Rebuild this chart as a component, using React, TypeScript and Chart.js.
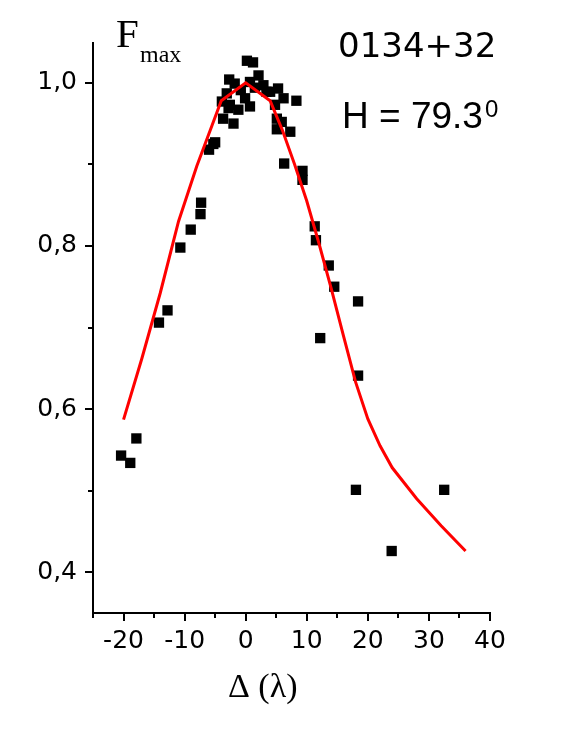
import React, { useEffect, useRef } from "react";
import { Chart, registerables } from "chart.js";

Chart.register(...registerables);

const xTicks = [-20, -10, 0, 10, 20, 30, 40];
const xMinorTicks = [-25, -15, -5, 5, 15, 25, 35];
const yTicks = [0.4, 0.6, 0.8, 1.0];
const yMinorTicks = [0.5, 0.7, 0.9];

const obsX = [
  -20.4, -18.9, -17.9, -14.2, -12.8, -10.7, -9.0, -7.4, -7.3, -6.0, -5.0, -5.3,
  0.2, 1.2, -2.7, 2.1, -1.8, 0.7, 2.9, 5.3, 3.4, -3.1, -0.1, 6.2, 8.3, -2.6, 0.7,
  -1.2, 4.8, -3.7, -2.0, 5.1, 5.9, 7.3, 4.0, -0.8, 1.5, -3.9, -2.8, 5.1,
  6.3, 9.3, 9.3, 11.3, 11.5, 13.6, 14.5, 18.4, 12.2, 18.4, 18.05, 32.5, 23.9,
];
const obsY = [
  0.543, 0.534, 0.564, 0.706, 0.721, 0.798, 0.82, 0.839, 0.853, 0.918, 0.927, 0.925,
  1.027, 1.025, 1.004, 1.009, 0.999, 1.001, 0.997, 0.993, 0.989, 0.987, 0.981, 0.981, 0.978, 0.973, 0.971,
  0.967, 0.973, 0.956, 0.95, 0.956, 0.952, 0.94, 0.989, 0.991, 0.994, 0.977, 0.969, 0.943,
  0.901, 0.892, 0.881, 0.824, 0.807, 0.776, 0.75, 0.732, 0.687, 0.641, 0.501, 0.501, 0.426,
];

const fitX = [-20, -17, -14, -11, -8, -5.5, -4, 0, 4, 6, 8, 10, 12, 14, 16, 18, 20, 22, 24, 28, 32, 36];
const fitY = [
  0.587, 0.662, 0.742, 0.83, 0.898, 0.948, 0.978, 1.0, 0.978, 0.942, 0.9, 0.855, 0.803, 0.748,
  0.69, 0.633, 0.588, 0.555, 0.528, 0.49, 0.457, 0.426,
];

const SANS = '"DejaVu Sans", sans-serif';
const ARIAL = '"Liberation Sans", Arial, sans-serif';
const SERIF = '"Liberation Serif", "DejaVu Serif", serif';

const decorPlugin = {
  id: "decor",
  afterDraw(chart: any) {
    const ctx = chart.ctx as CanvasRenderingContext2D;
    const xs = chart.scales.x;
    const ys = chart.scales.y;
    const { left, right, top, bottom } = chart.chartArea;
    ctx.save();
    ctx.strokeStyle = "#000";
    ctx.lineWidth = 2;
    ctx.lineCap = "butt";
    // axes
    ctx.beginPath();
    ctx.moveTo(left, top);
    ctx.lineTo(left, bottom + 1);
    ctx.moveTo(left - 1, bottom);
    ctx.lineTo(right + 1, bottom);
    ctx.stroke();
    // ticks
    ctx.beginPath();
    xTicks.forEach((v) => {
      const p = Math.round(xs.getPixelForValue(v));
      ctx.moveTo(p, bottom);
      ctx.lineTo(p, bottom + 8);
    });
    xMinorTicks.forEach((v) => {
      const p = Math.round(xs.getPixelForValue(v));
      ctx.moveTo(p, bottom);
      ctx.lineTo(p, bottom + 5);
    });
    yTicks.forEach((v) => {
      const p = Math.round(ys.getPixelForValue(v));
      ctx.moveTo(left, p);
      ctx.lineTo(left - 8, p);
    });
    yMinorTicks.forEach((v) => {
      const p = Math.round(ys.getPixelForValue(v));
      ctx.moveTo(left, p);
      ctx.lineTo(left - 5, p);
    });
    ctx.stroke();

    // texts
    ctx.fillStyle = "#000";
    ctx.textBaseline = "alphabetic";
    ctx.textAlign = "left";
    ctx.font = `41px ${SERIF}`;
    ctx.fillText("F", 116, 47);
    ctx.font = `24px ${SERIF}`;
    ctx.fillText("max", 140, 62);
    ctx.font = `34px ${SANS}`;
    ctx.fillText("0134+32", 338, 57);
    ctx.font = `37px ${ARIAL}`;
    ctx.fillText("H = 79.3", 342, 128);
    ctx.font = `24px ${ARIAL}`;
    ctx.fillText("0", 485, 117);
    ctx.font = `34px ${SERIF}`;
    ctx.fillText("\u0394 (\u03bb)", 228, 697);
    ctx.restore();
  },
};

export default function App() {
  const ref = useRef<HTMLCanvasElement | null>(null);
  useEffect(() => {
    if (!ref.current) return;
    const chart = new Chart(ref.current, {
      type: "scatter",
      data: {
        datasets: [
          {
            type: "scatter",
            data: fitX.map((x, i) => ({ x, y: fitY[i] })),
            showLine: true,
            borderColor: "#ff0000",
            borderWidth: 3,
            pointRadius: 0,
            tension: 0,
            order: 0,
          } as any,
          {
            type: "scatter",
            data: obsX.map((x, i) => ({ x, y: obsY[i] })),
            pointStyle: "rect",
            pointRadius: 7.3,
            backgroundColor: "#000",
            borderColor: "#000",
            borderWidth: 0,
            order: 1,
          } as any,
        ],
      },
      options: {
        animation: false,
        responsive: false,
        devicePixelRatio: 1,
        events: [],
        layout: { padding: { left: 0, right: 82, top: 42, bottom: 0 } },
        plugins: {
          legend: { display: false },
          tooltip: { enabled: false },
          title: { display: false },
        },
        scales: {
          x: {
            type: "linear",
            min: -25,
            max: 40,
            afterBuildTicks: (s: any) => {
              s.ticks = xTicks.map((v) => ({ value: v }));
            },
            afterFit: (s: any) => {
              s.height = 127;
            },
            grid: { display: false, drawTicks: false },
            border: { display: false },
            ticks: {
              color: "#000",
              font: { family: SANS, size: 25 },
              padding: 13,
              maxRotation: 0,
              autoSkip: false,
              callback: (v: any) => String(v),
            },
          },
          y: {
            type: "linear",
            min: 0.35,
            max: 1.05,
            afterBuildTicks: (s: any) => {
              s.ticks = yTicks.map((v) => ({ value: v }));
            },
            afterFit: (s: any) => {
              s.width = 93;
            },
            grid: { display: false, drawTicks: false },
            border: { display: false },
            ticks: {
              color: "#000",
              font: { family: SANS, size: 25 },
              padding: 16,
              autoSkip: false,
              callback: (v: any) => Number(v).toFixed(1).replace(".", ","),
            },
          },
        },
      },
      plugins: [decorPlugin],
    });
    return () => chart.destroy();
  }, []);
  return (
    <div style={{ position: "absolute", left: 0, top: 0, width: 572, height: 740, background: "#fff" }}>
      <canvas ref={ref} width={572} height={740} style={{ width: 572, height: 740, display: "block" }} />
    </div>
  );
}
